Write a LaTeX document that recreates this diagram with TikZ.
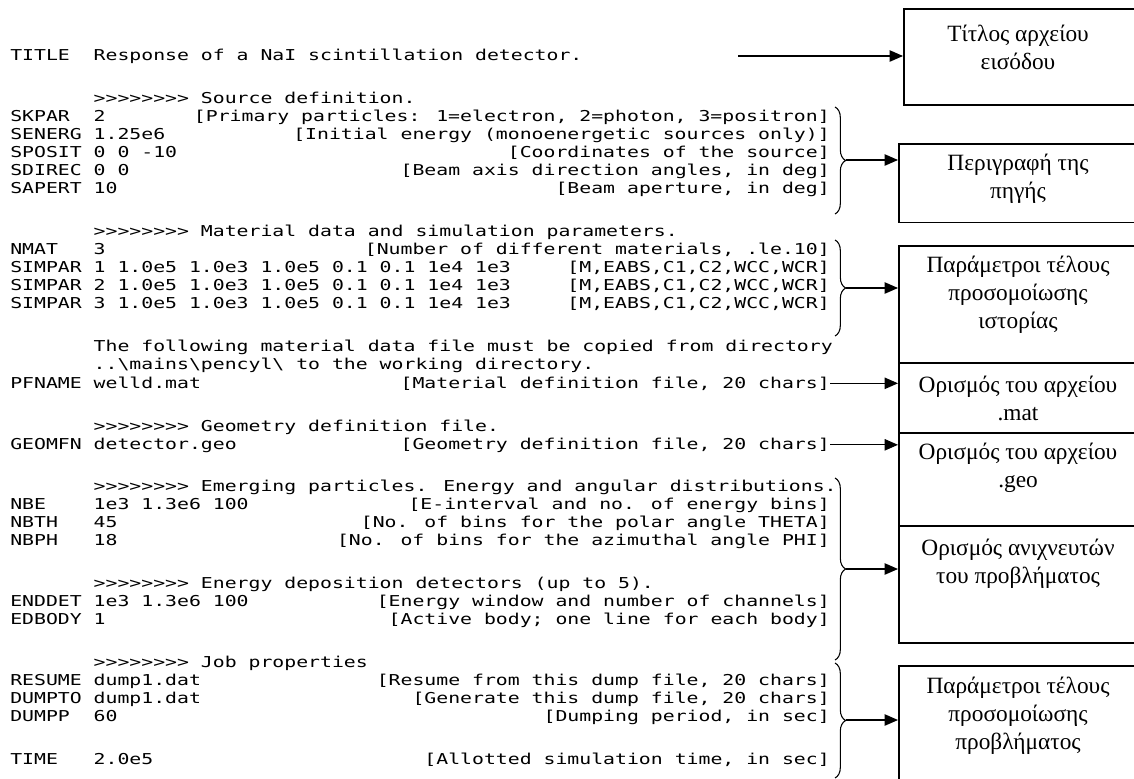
\documentclass[tikz,border=0pt]{standalone}
\usepackage{fontspec}
\newfontfamily\codefont[FakeStretch=1.32]{DejaVu Sans Mono}
\newfontfamily\grfont{Liberation Serif}
\usetikzlibrary{arrows.meta,decorations.pathreplacing}
\tikzset{>={Triangle[length=10pt,width=8.5pt]}}
\tikzset{
  code/.style={font=\codefont\fontsize{11.25pt}{13pt}\selectfont, inner sep=0pt, anchor=base west},
  cmt/.style={code, anchor=base east},
  box/.style={draw, line width=1.2pt, anchor=north west, minimum width=183pt, inner sep=0pt},
  boxtext/.style={font=\grfont\fontsize{17.5pt}{21pt}\selectfont, align=center, inner sep=0pt},
  link/.style={->, line width=0.9pt},
  brc/.style={decorate, decoration={brace, amplitude=8pt}, line width=0.8pt}
}

\begin{document}
\begin{tikzpicture}[x=0.75pt,y=-0.75pt]
\fill[white] (0,0) rectangle (1134,778);
\useasboundingbox (0,0) rectangle (1134,778);

% input file, left part
\node[code] (title) at (10,60) {TITLE};
\node[code] (title-v) at (93.4,60) {Response of a NaI scintillation detector.};

\node[code] (hdr1) at (93.4,103) {>>>>>>>> Source definition.};
\node[code] (skpar) at (10,121) {SKPAR};
\node[code] (skpar-v) at (93.4,121) {2};
\node[cmt] (skpar-c) at (830,121) {[Primary particles: 1=electron, 2=photon, 3=positron]};
\node[code] (senerg) at (10,139) {SENERG};
\node[code] (senerg-v) at (93.4,139) {1.25e6};
\node[cmt] (senerg-c) at (830,139) {[Initial energy (monoenergetic sources only)]};
\node[code] (sposit) at (10,157) {SPOSIT};
\node[code] (sposit-v) at (93.4,157) {0 0 -10};
\node[cmt] (sposit-c) at (830,157) {[Coordinates of the source]};
\node[code] (sdirec) at (10,175) {SDIREC};
\node[code] (sdirec-v) at (93.4,175) {0 0};
\node[cmt] (sdirec-c) at (830,175) {[Beam axis direction angles, in deg]};
\node[code] (sapert) at (10,193) {SAPERT};
\node[code] (sapert-v) at (93.4,193) {10};
\node[cmt] (sapert-c) at (830,193) {[Beam aperture, in deg]};

\node[code] (hdr2) at (93.4,236) {>>>>>>>> Material data and simulation parameters.};
\node[code] (nmat) at (10,254) {NMAT};
\node[code] (nmat-v) at (93.4,254) {3};
\node[cmt] (nmat-c) at (830,254) {[Number of different materials, .le.10]};
\node[code] (simpar1) at (10,272) {SIMPAR};
\node[code] (simpar1-v) at (93.4,272) {1 1.0e5 1.0e3 1.0e5 0.1 0.1 1e4 1e3};
\node[cmt] (simpar1-c) at (830,272) {[M,EABS,C1,C2,WCC,WCR]};
\node[code] (simpar2) at (10,290) {SIMPAR};
\node[code] (simpar2-v) at (93.4,290) {2 1.0e5 1.0e3 1.0e5 0.1 0.1 1e4 1e3};
\node[cmt] (simpar2-c) at (830,290) {[M,EABS,C1,C2,WCC,WCR]};
\node[code] (simpar3) at (10,308) {SIMPAR};
\node[code] (simpar3-v) at (93.4,308) {3 1.0e5 1.0e3 1.0e5 0.1 0.1 1e4 1e3};
\node[cmt] (simpar3-c) at (830,308) {[M,EABS,C1,C2,WCC,WCR]};

\node[code] (note1) at (93.4,351) {The following material data file must be copied from directory};
\node[code] (note2) at (93.4,369) {..\textbackslash mains\textbackslash pencyl\textbackslash{} to the working directory.};
\node[code] (pfname) at (10,388) {PFNAME};
\node[code] (pfname-v) at (93.4,388) {welld.mat};
\node[cmt] (pfname-c) at (830,388) {[Material definition file, 20 chars]};

\node[code] (hdr3) at (93.4,431) {>>>>>>>> Geometry definition file.};
\node[code] (geomfn) at (10,449) {GEOMFN};
\node[code] (geomfn-v) at (93.4,449) {detector.geo};
\node[cmt] (geomfn-c) at (830,449) {[Geometry definition file, 20 chars]};

\node[code] (hdr4) at (93.4,491) {>>>>>>>> Emerging particles. Energy and angular distributions.};
\node[code] (nbe) at (10,509) {NBE};
\node[code] (nbe-v) at (93.4,509) {1e3 1.3e6 100};
\node[cmt] (nbe-c) at (830,509) {[E-interval and no. of energy bins]};
\node[code] (nbth) at (10,527) {NBTH};
\node[code] (nbth-v) at (93.4,527) {45};
\node[cmt] (nbth-c) at (830,527) {[No. of bins for the polar angle THETA]};
\node[code] (nbph) at (10,545) {NBPH};
\node[code] (nbph-v) at (93.4,545) {18};
\node[cmt] (nbph-c) at (830,545) {[No. of bins for the azimuthal angle PHI]};

\node[code] (hdr5) at (93.4,588) {>>>>>>>> Energy deposition detectors (up to 5).};
\node[code] (enddet) at (10,606) {ENDDET};
\node[code] (enddet-v) at (93.4,606) {1e3 1.3e6 100};
\node[cmt] (enddet-c) at (830,606) {[Energy window and number of channels]};
\node[code] (edbody) at (10,624) {EDBODY};
\node[code] (edbody-v) at (93.4,624) {1};
\node[cmt] (edbody-c) at (830,624) {[Active body; one line for each body]};

\node[code] (hdr6) at (93.4,667) {>>>>>>>> Job properties};
\node[code] (resume) at (10,685) {RESUME};
\node[code] (resume-v) at (93.4,685) {dump1.dat};
\node[cmt] (resume-c) at (830,685) {[Resume from this dump file, 20 chars]};
\node[code] (dumpto) at (10,703) {DUMPTO};
\node[code] (dumpto-v) at (93.4,703) {dump1.dat};
\node[cmt] (dumpto-c) at (830,703) {[Generate this dump file, 20 chars]};
\node[code] (dumpp) at (10,721) {DUMPP};
\node[code] (dumpp-v) at (93.4,721) {60};
\node[cmt] (dumpp-c) at (830,721) {[Dumping period, in sec]};

\node[code] (time) at (10,764) {TIME};
\node[code] (time-v) at (93.4,764) {2.0e5};
\node[cmt] (time-c) at (830,764) {[Allotted simulation time, in sec]};

% boxes on the right
\node[box, minimum height=72pt] (b1) at (903,8) {};
\node[box, minimum height=59pt] (b2) at (898,143) {};
\node[box, minimum height=88pt] (b3) at (898,245) {};
\node[box, minimum height=52.5pt] (b4) at (898,362) {};
\node[box, minimum height=70pt] (b5) at (898,432) {};
\node[box, minimum height=88pt] (b6) at (898,525) {};
\node[box, minimum height=98pt] (b7) at (898,665) {};

\node[boxtext] (t1) at (1018,47) {Τίτλος αρχείου\\εισόδου};
\node[boxtext] (t2) at (1018,179) {Περιγραφή της\\πηγής};
\node[boxtext] (t3) at (1018,295) {Παράμετροι τέλους\\προσομοίωσης\\ιστορίας};
\node[boxtext] (t4) at (1018,398) {Ορισμός του αρχείου\\.mat};
\node[boxtext] (t5) at (1018,468) {Ορισμός του αρχείου\\.geo};
\node[boxtext] (t6) at (1018,564) {Ορισμός ανιχνευτών\\του προβλήματος};
\node[boxtext] (t7) at (1018,716) {Παράμετροι τέλους\\προσομοίωσης\\προβλήματος};

% braces
\coordinate (src-top) at (835,107);
\coordinate (src-bot) at (835,214);
\coordinate (src-tip) at (846,160);
\coordinate (mat-top) at (835,240);
\coordinate (mat-bot) at (835,336);
\coordinate (mat-tip) at (846,288);
\coordinate (emg-top) at (835,478);
\coordinate (emg-bot) at (835,660);
\coordinate (emg-tip) at (846,569);
\coordinate (job-top) at (835,663);
\coordinate (job-bot) at (835,778);
\coordinate (job-tip) at (846,720);
\draw[brc] (src-top) -- (src-bot);
\draw[brc] (mat-top) -- (mat-bot);
\draw[brc] (emg-top) -- (emg-bot);
\draw[brc] (job-top) -- (job-bot);

% arrows
\coordinate (ttl) at (738,56);
\draw[link] (ttl) -- (ttl -| b1.west);
\draw[link] (src-tip) -- (src-tip -| b2.west);
\draw[link] (mat-tip) -- (mat-tip -| b3.west);
\draw[link] (pfname-c.east) -- (pfname-c.east -| b4.west);
\draw[link] (geomfn-c.east) -- (geomfn-c.east -| b5.west);
\draw[link] (emg-tip) -- (emg-tip -| b6.west);
\draw[link] (job-tip) -- (job-tip -| b7.west);
\end{tikzpicture}
\end{document}
